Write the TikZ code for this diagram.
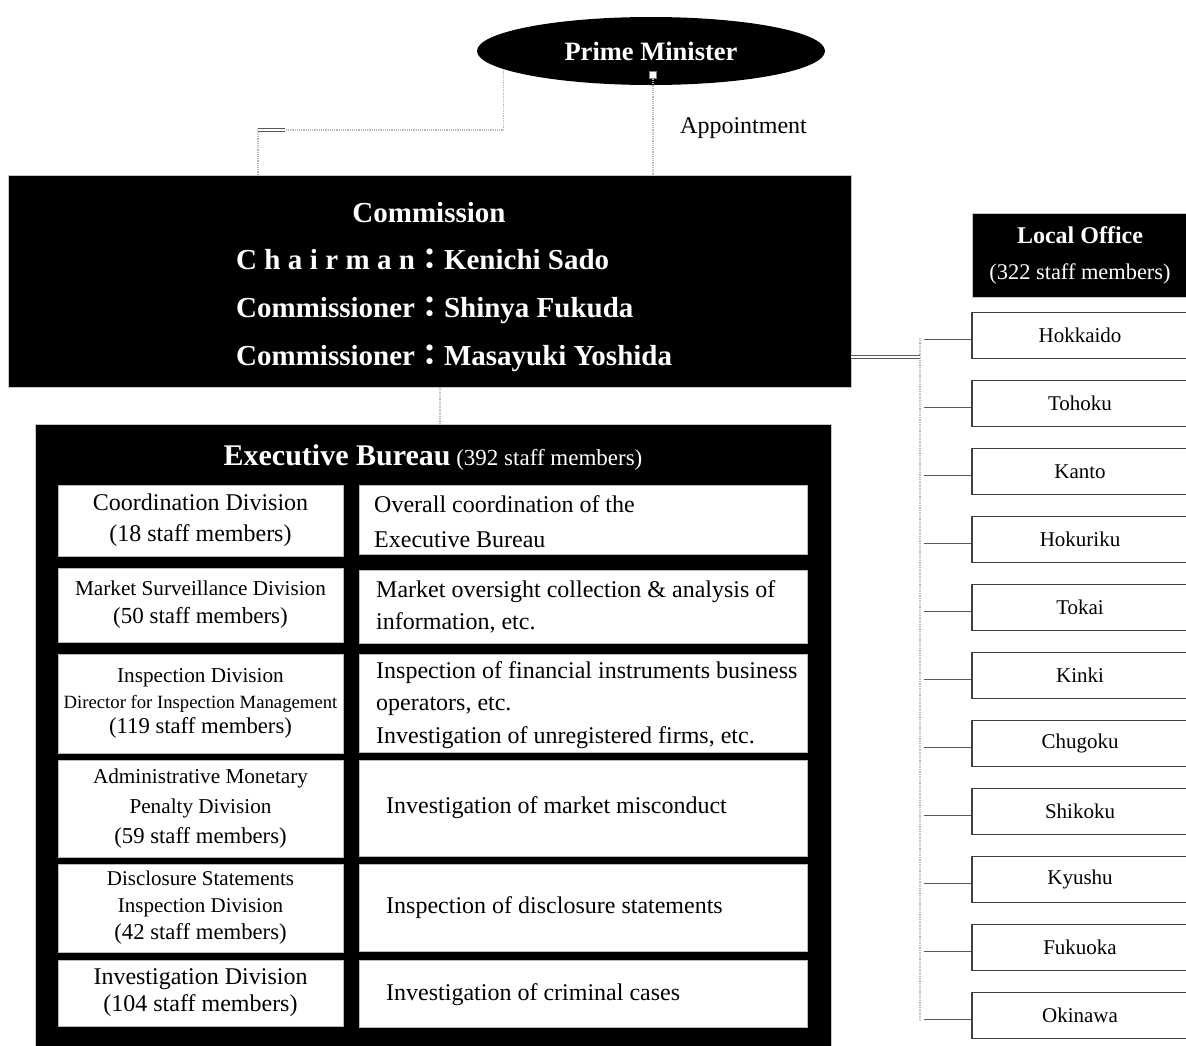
\documentclass[tikz,border=0pt]{standalone}
\usepackage{fontspec}
\setmainfont{Liberation Serif}
\newfontfamily\cjkfont{Noto Sans CJK JP}
\usetikzlibrary{shapes.geometric}
\newcommand\fs[2]{\fontsize{#1}{#2}\selectfont}
\newsavebox\spreadbox
\newcommand\spreadword[2]{\sbox\spreadbox{#1}\makebox[\wd\spreadbox][s]{#2}}
\newcommand\fcolon{{\cjkfont ：}}
\begin{document}
\begin{tikzpicture}[x=1pt,y=-1pt,
  blk/.style={fill=black, draw=gray!45, line width=0.8pt, inner sep=0pt},
  wbox/.style={fill=white, draw=gray!55, line width=0.8pt, align=center, inner sep=0pt},
  rbox/.style={fill=white, draw=black!75, line width=1.2pt, minimum width=216, minimum height=45.5, inner sep=0pt, font=\fs{21}{25}},
  conn/.style={draw=gray!55, line width=1.2pt, densely dotted},
  stub/.style={draw=gray!70!black, double=white, double distance=2pt, line width=0.6pt},
  wt/.style={text=white, inner sep=0pt},
  desc/.style={inner sep=0pt, align=left, anchor=west},
]
\useasboundingbox (0,0) rectangle (1186,1045);

% Prime Minister
\node[ellipse, fill=black, minimum width=348, minimum height=68, inner sep=0pt,
      text=white, font=\bfseries\fs{26.5}{30}] (pm) at (651,51) {Prime Minister};
\node[draw=gray, fill=white, minimum size=7, inner sep=0pt, line width=0.4pt] (handle) at (653,75) {};
\node[font=\fs{24}{28}, anchor=west, inner sep=0pt] (appt) at (680,128) {Appointment};

% Commission
\node[blk, minimum width=843, minimum height=212] (comm) at (429.5,281) {};
\node[wt, font=\bfseries\fs{29}{34}, anchor=base] (commT0) at (429,222) {Commission};
\node[wt, font=\bfseries\fs{29}{34}, anchor=base west] (commT1) at (236,269)
  {\spreadword{Commissioner}{C\hfill h\hfill a\hfill i\hfill r\hfill m\hfill a\hfill n}\fcolon Kenichi Sado};
\node[wt, font=\bfseries\fs{29}{34}, anchor=base west] (commT2) at (236,317)
  {Commissioner\fcolon Shinya Fukuda};
\node[wt, font=\bfseries\fs{29}{34}, anchor=base west] (commT3) at (236,365)
  {Commissioner\fcolon Masayuki Yoshida};

% PM connectors
\coordinate (bendL) at (258,130);
\draw[conn] (pm.187) |- (bendL) -- (comm.north -| bendL);
\draw[stub] (bendL) -- ++(27,0);
\draw[conn] (handle.south) -- (comm.north -| handle.south);

% Local office
\node[blk, minimum width=216, minimum height=84, text=white, align=center,
      font=\fs{22.4}{36}] (local) at (1080,255) {{\bfseries\fs{24}{36}Local Office}\\(322 staff members)};

\coordinate (busTop) at (920,338);
\coordinate (busBot) at (920,1022);
\draw[conn] (busTop) -- (busBot);
\draw[stub] (comm.east |- 0,357) -- (busTop |- 0,357);

\foreach \nm [count=\i from 0] in {Hokkaido,Tohoku,Kanto,Hokuriku,Tokai,Kinki,Chugoku,Shikoku,Kyushu,Fukuoka,Okinawa} {
  \node[rbox] (r\i) at (1080,335.5+68*\i) {\nm};
  \draw[stub] ([yshift=-5pt]r\i.west) -- ++(-47,0);
}

% Executive Bureau
\node[blk, minimum width=796, minimum height=630] (exec) at (433,739) {};
\draw[conn] (comm.south -| 440,0) -- (exec.north -| 440,0);
\node[wt, anchor=base, font=\fs{23}{36}] (execT) at (433,465)
  {{\bfseries\fs{30}{36}Executive Bureau} (392 staff members)};

% Divisions (left column)
\node[wbox, minimum width=285, minimum height=71, font=\fs{24}{31}] (c1) at (200.5,520.5)
  {Coordination Division\\(18 staff members)};
\node[wbox, minimum width=285, minimum height=74, font=\fs{23}{28}] (c2) at (200.5,605)
  {{\fs{21.2}{28}Market Surveillance Division}\\(50 staff members)};
\node[wbox, minimum width=285, minimum height=99, font=\fs{22.7}{25.5}] (c3) at (200.5,703.5)
  {{\fs{21.2}{25}Inspection Division}\\{\fs{18.7}{25}Director for Inspection Management}\\(119 staff members)};
\node[wbox, minimum width=285, minimum height=97, font=\fs{22.7}{30}] (c4) at (200.5,808.5)
  {{\fs{21.2}{30}Administrative Monetary}\\{\fs{21.2}{30}Penalty Division}\\(59 staff members)};
\node[wbox, minimum width=285, minimum height=88, font=\fs{22.7}{27}] (c5) at (200.5,908)
  {{\fs{21}{27}Disclosure Statements}\\{\fs{21}{27}Inspection Division}\\(42 staff members)};
\node[wbox, minimum width=285, minimum height=66, font=\fs{24}{27}] (c6) at (200.5,993)
  {Investigation Division\\(104 staff members)};

% Descriptions (right column)
\node[wbox, minimum width=448, minimum height=69] (d1) at (583,519.5) {};
\node[desc, font=\fs{24}{35}] (d1t) at (374,522) {Overall coordination of the\\Executive Bureau};
\node[wbox, minimum width=448, minimum height=73] (d2) at (583,606.5) {};
\node[desc, font=\fs{24}{32}] (d2t) at (376,607) {Market oversight collection \& analysis of\\information, etc.};
\node[wbox, minimum width=448, minimum height=98] (d3) at (583,703) {};
\node[desc, font=\fs{24}{32.5}] (d3t) at (376,705) {Inspection of financial instruments business\\operators, etc.\\Investigation of unregistered firms, etc.};
\node[wbox, minimum width=448, minimum height=96] (d4) at (583,808) {};
\node[desc, font=\fs{24}{30}] (d4t) at (386,808) {Investigation of market misconduct};
\node[wbox, minimum width=448, minimum height=87] (d5) at (583,907.5) {};
\node[desc, font=\fs{24}{30}] (d5t) at (386,908) {Inspection of disclosure statements};
\node[wbox, minimum width=448, minimum height=67] (d6) at (583,993.5) {};
\node[desc, font=\fs{24}{30}] (d6t) at (386,995) {Investigation of criminal cases};
\end{tikzpicture}
\end{document}
